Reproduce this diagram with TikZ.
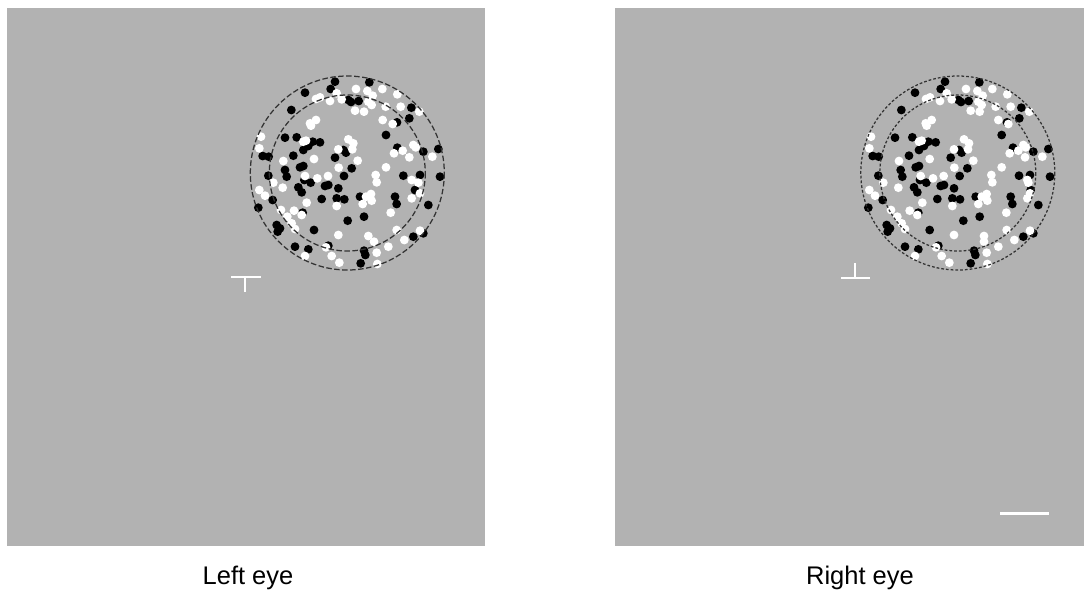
\documentclass[tikz,border=0pt]{standalone}
\usepackage{fontspec}
\setmainfont{Liberation Sans}
\usepackage{xcolor}
\usetikzlibrary{calc, positioning}

\definecolor{screen}{RGB}{178,178,178}

% dot positions (units of 1/3 px, from the corner of the stimulus patch)
\def\blackdots{285/65, 388/67, 195/98, 272/87, 325/120, 333/126, 356/123, 154/150,
  514/143, 508/175, 471/187, 438/225, 135/233, 170/232, 218/245, 240/247, 205/258,
  472/263, 550/275, 595/267, 68/288, 86/290, 160/287, 190/270, 285/293, 310/270,
  318/278, 335/325, 180/322, 190/318, 135/330, 140/350, 85/347, 312/348, 490/347,
  540/345, 600/350, 212/368, 193/360, 255/378, 265/375, 175/382, 185/397, 295/385,
  525/390, 98/420, 245/417, 290/415, 313/418, 360/410, 465/410, 470/432, 565/435,
  55/443, 188/458, 372/470, 323/482, 110/495, 120/505, 113/515, 222/510, 520/530,
  550/520, 165/560, 205/568, 265/557, 372/572, 376/585, 362/610}
\def\whitedots{348/87, 382/93, 398/107, 427/87, 472/103, 240/112, 228/117, 270/123,
  290/100, 305/118, 345/152, 372/155, 395/135, 385/125, 437/140, 482/140, 538/155,
  428/180, 458/192, 213/197, 228/180, 210/190, 63/230, 190/245, 198/242, 325/238,
  340/250, 337/268, 295/268, 520/255, 527/262, 462/280, 488/272, 508/292, 577/290,
  58/265, 222/297, 130/303, 296/323, 353/302, 438/322, 232/355, 264/348, 195/348,
  100/368, 128/383, 407/345, 410/367, 515/360, 535/368, 58/390, 75/407, 200/428,
  290/438, 368/432, 378/410, 393/402, 395/422, 515/415, 540/400, 123/450, 162/452,
  142/470, 155/490, 165/507, 185/465, 452/458, 295/525, 385/528, 402/545, 470/510,
  493/540, 540/512, 445/560, 410/578, 275/588, 298/608, 195/588, 412/612, 258/562}

% #1 = horizontal disparity of the central disk
\newcommand{\dotfield}[1]{%
  \foreach \a/\b in \blackdots {
    \pgfmathsetmacro\disp{veclen(\a-322,\b-339) < 210 ? #1 : 0}
    \fill[black] ({(\a+\disp)/3},{\b/3}) circle (4.4);
  }
  \foreach \a/\b in \whitedots {
    \pgfmathsetmacro\disp{veclen(\a-322,\b-339) < 210 ? #1 : 0}
    \fill[white] ({(\a+\disp)/3},{\b/3}) circle (4.4);
  }
}

\begin{document}
\begin{tikzpicture}[x=0.2mm, y=-0.2mm,
    ring/.style={draw=black!80, line width=0.25mm},
    fixline/.style={white, line width=0.45mm},
    eyelabel/.style={font=\fontsize{14.5}{17}\selectfont}]
    \useasboundingbox (0,0) rectangle (1084,592);
    % 1. Two screens
    \fill[screen] (7,8) rectangle (485,546);
    \fill[screen] (615,8) rectangle (1084,546);

    % 2. Left eye: dots and rings
    \begin{scope}[shift={(240,60)}]
        \dotfield{0}
        \draw[ring, dash pattern=on 1.1mm off 0.5mm] (107.3,113) circle (97);
        \draw[ring, dash pattern=on 1.1mm off 0.5mm] (107.3,113) circle (78);
    \end{scope}

    % 3. Right eye: dots and rings
    \begin{scope}[shift={(850,60)}]
        \dotfield{17}
        \draw[ring, dash pattern=on 0.55mm off 0.4mm] (107.8,113) circle (97);
        \draw[ring, dash pattern=on 0.55mm off 0.4mm] (107.8,113) circle (78);
    \end{scope}

    % 4. Fixation marks and scale bar
    \draw[fixline] (231,277) -- (261,277);
    \draw[fixline] (245,277) -- (245,292);
    \draw[fixline] (841,278) -- (870,278);
    \draw[fixline] (855,278) -- (855,263);
    \draw[white, line width=0.6mm] (1000,513) -- (1049,513);

    % 5. Labels
    \node[eyelabel] (lefteye) at (248,578) {Left eye};
    \node[eyelabel] (righteye) at (860,578) {Right eye};
\end{tikzpicture}
\end{document}
